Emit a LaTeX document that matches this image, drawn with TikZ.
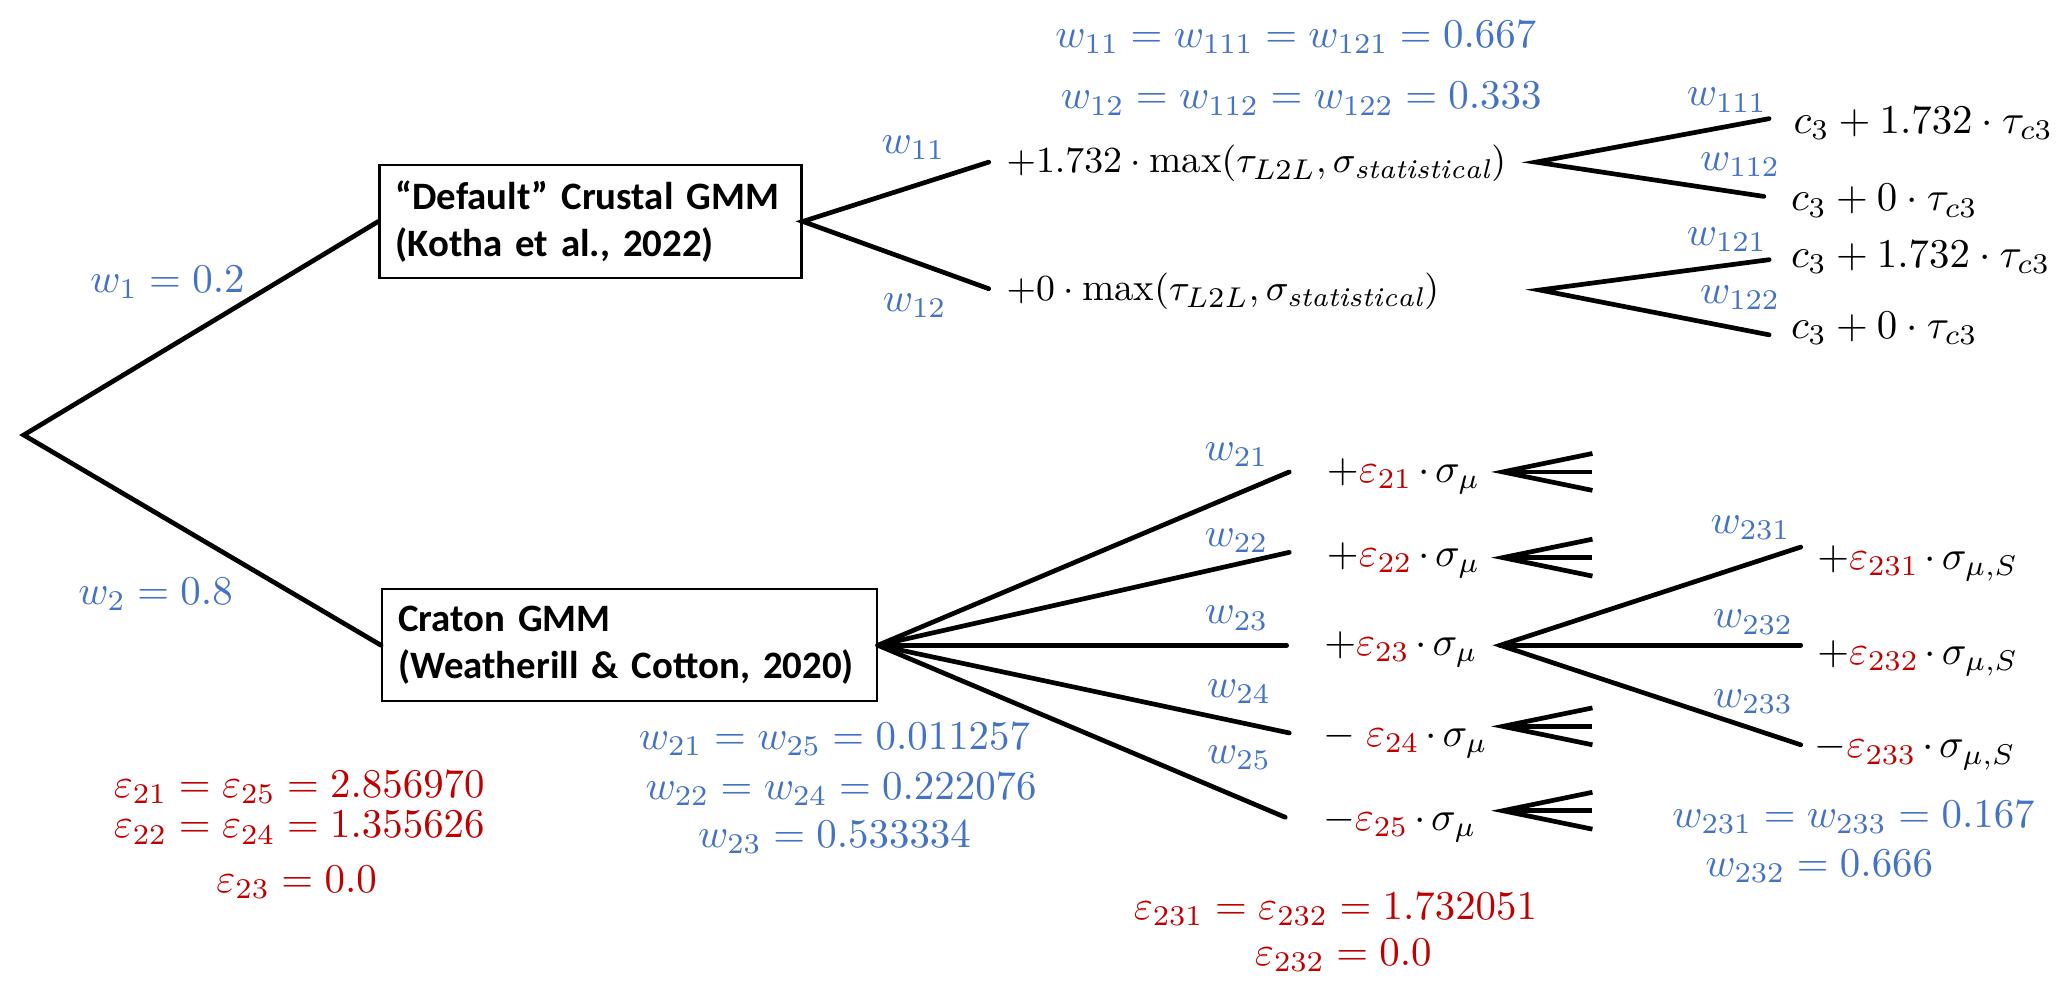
\documentclass[tikz,border=0pt]{standalone}
\usepackage{fontspec}
\newfontfamily\boxfont{Carlito}
\definecolor{wblue}{HTML}{4472C4}
\definecolor{ered}{HTML}{C00000}
\newcommand{\er}[1]{{\color{ered}\varepsilon_{#1}}}
\newcommand{\stat}{\mathit{statistical}}
\newcommand{\tm}[1]{$\medmuskip=2.5mu\relax #1$}
\begin{document}
\begin{tikzpicture}[x=0.3226pt,y=-0.3226pt,
  br/.style={line width=1.15pt, line cap=round, line join=miter},
  mt/.style={font=\fontsize{10}{12}\selectfont, inner sep=0pt},
  bl/.style={mt, text=wblue},
  rd/.style={mt, text=ered},
  tx/.style={mt, anchor=base west},
  txn/.style={tx, font=\fontsize{9.5}{12}\selectfont},
  gbox/.style={draw, line width=0.58pt, font=\boxfont\bfseries\fontsize{9.5}{11.6}\selectfont,
    inner xsep=3.9pt, inner ysep=0pt, align=left, anchor=center}
]
\useasboundingbox (0,0) rectangle (1568,759);
\fill[white] (0,0) rectangle (1568,759);

% root and first level
\coordinate (root) at (18,330);
\node[gbox, text width=95.5pt, minimum height=27.7pt] (dflt) at (448,168)
  {“Default” Crustal GMM\\(Kotha et al., 2022)};
\node[gbox, text width=113.2pt, minimum height=27.4pt] (crt) at (477.5,489.5)
  {Craton GMM\\(Weatherill \& Cotton, 2020)};
\draw[br] (dflt.west) -- (root) -- (crt.west);
\node[bl] (lw1) at (127,214) {$w_1=0.2$};
\node[bl] (lw2) at (118,451) {$w_2=0.8$};

% default branch
\coordinate (a11) at (750,123);
\coordinate (a12) at (750,219);
\draw[br] (a11) -- (dflt.east) -- (a12);
\node[bl] (lw11) at (693,112) {$w_{11}$};
\node[bl] (lw12) at (694,232) {$w_{12}$};
\node[txn] (t11) at (763,131) {$+1.732\cdot\max(\tau_{L2L},\sigma_{\stat})$};
\node[txn] (t12) at (763,228) {$+0\cdot\max(\tau_{L2L},\sigma_{\stat})$};
\node[bl] (top1) at (983,28) {$w_{11}=w_{111}=w_{121}=0.667$};
\node[bl] (top2) at (987,75) {$w_{12}=w_{112}=w_{122}=0.333$};

\coordinate (f1) at (1165,123);
\coordinate (f1a) at (1342,90);
\coordinate (f1b) at (1338,149);
\draw[br] (f1a) -- (f1) -- (f1b);
\coordinate (f2) at (1168,220);
\coordinate (f2a) at (1342,197);
\coordinate (f2b) at (1342,254);
\draw[br] (f2a) -- (f2) -- (f2b);
\node[bl] (lw111) at (1310,76) {$w_{111}$};
\node[bl] (lw112) at (1320,125) {$w_{112}$};
\node[bl] (lw121) at (1310,182) {$w_{121}$};
\node[bl] (lw122) at (1320,226) {$w_{122}$};
\node[tx] (c1) at (1360,101) {$c_3+1.732\cdot\tau_{c3}$};
\node[tx] (c2) at (1358,160) {$c_3+0\cdot\tau_{c3}$};
\node[tx] (c3) at (1358,203) {$c_3+1.732\cdot\tau_{c3}$};
\node[tx] (c4) at (1358,257) {$c_3+0\cdot\tau_{c3}$};

% craton branch
\coordinate (e1) at (978,358);
\coordinate (e2) at (978,419);
\coordinate (e3) at (976,489.5);
\coordinate (e4) at (978,556);
\coordinate (e5) at (975,620);
\foreach \e in {e1,e2,e3,e4,e5} \draw[br] (crt.east) -- (\e);
\node[bl] (lw21) at (938,345) {$w_{21}$};
\node[bl] (lw22) at (938,410) {$w_{22}$};
\node[bl] (lw23) at (938,469) {$w_{23}$};
\node[bl] (lw24) at (940,525) {$w_{24}$};
\node[bl] (lw25) at (940,575) {$w_{25}$};
\node[tx] (r1) at (1006,366) {\tm{+\er{21}\cdot\sigma_\mu}};
\node[tx] (r2) at (1006,430) {\tm{+\er{22}\cdot\sigma_\mu}};
\node[tx] (r3) at (1004,497) {\tm{+\er{23}\cdot\sigma_\mu}};
\node[tx] (r4) at (1003,566) {\tm{-\;\er{24}\cdot\sigma_\mu}};
\node[tx] (r5) at (1003,630) {\tm{-\er{25}\cdot\sigma_\mu}};

% collapsed triple forks
\foreach \n/\yy in {k1/358,k2/423,k4/551,k5/615}{
  \coordinate (\n) at (1140,\yy);
  \draw[br, line cap=butt] (1208,\yy-14) -- (\n) -- (1208,\yy+14);
  \draw[br, line cap=butt] (\n) -- (1208,\yy);
}

% third-level fork of w23
\coordinate (g) at (1138,489.5);
\coordinate (ga) at (1366,415);
\coordinate (gb) at (1366,489.5);
\coordinate (gc) at (1366,565);
\draw[br] (ga) -- (g) -- (gc);
\draw[br] (g) -- (gb);
\node[bl] (lw231) at (1328,400) {$w_{231}$};
\node[bl] (lw232) at (1330,472) {$w_{232}$};
\node[bl] (lw233) at (1330,532) {$w_{233}$};
\node[tx] (s1) at (1378,432) {\tm{+\er{231}\cdot\sigma_{\mu,S}}};
\node[tx] (s2) at (1378,504) {\tm{+\er{232}\cdot\sigma_{\mu,S}}};
\node[tx] (s3) at (1376,575) {\tm{-\er{233}\cdot\sigma_{\mu,S}}};

% value annotations
\node[rd] (ev1) at (227,597) {$\varepsilon_{21}=\varepsilon_{25}=2.856970$};
\node[rd] (ev2) at (227,628) {$\varepsilon_{22}=\varepsilon_{24}=1.355626$};
\node[rd] (ev3) at (225,669) {$\varepsilon_{23}=0.0$};
\node[bl] (wv1) at (633,561) {$w_{21}=w_{25}=0.011257$};
\node[bl] (wv2) at (638,599) {$w_{22}=w_{24}=0.222076$};
\node[bl] (wv3) at (633,635) {$w_{23}=0.533334$};
\node[rd] (ev4) at (1013,690) {$\varepsilon_{231}=\varepsilon_{232}=1.732051$};
\node[rd] (ev5) at (1019,725) {$\varepsilon_{232}=0.0$};
\node[bl] (wv4) at (1406,620) {$w_{231}=w_{233}=0.167$};
\node[bl] (wv5) at (1380,657) {$w_{232}=0.666$};
\end{tikzpicture}
\end{document}
